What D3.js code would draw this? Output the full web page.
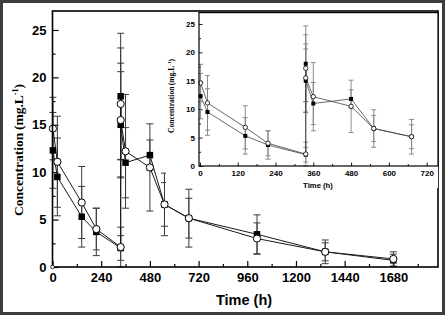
<!DOCTYPE html>
<html><head><meta charset="utf-8">
<script src="https://cdn.jsdelivr.net/npm/d3@7"></script>
<style>body{margin:0;background:#fff}svg{display:block}</style>
</head><body>
<script>
// ---- data ----
const timeH      = [2, 24, 144, 216, 336, 336, 336, 360, 480, 552, 672, 1008, 1344, 1680];
const squareMean = [12.3, 9.5, 5.3, 3.7, 2.0, 18.0, 15.0, 11.0, 11.8, 6.6, 5.15, 3.45, 1.6, 0.7];
const squareSD   = [4.0, 4.1, 3.2, 2.5, 1.3, 6.65, 5.6, 3.7, 1.6, 2.3, 2.1, 2.05, 0.95, 0.65];
const circleMean = [14.6, 11.1, 6.8, 4.0, 2.1, 17.2, 15.5, 12.2, 10.5, 6.6, 5.15, 3.0, 1.6, 0.85];
const circleSD   = [3.3, 4.8, 3.8, 2.2, 2.1, 5.9, 6.0, 6.0, 4.6, 3.3, 3.05, 1.65, 1.25, 0.75];
const originTime = [0];
const originValue = [0];
const mainXTicks = [0, 240, 480, 720, 960, 1200, 1440, 1680];
const mainXMinor = [120, 360, 600, 840, 1080, 1320, 1560, 1800];
const mainYTicks = [0, 5, 10, 15, 20, 25];
const mainYMinor = [2.5, 7.5, 12.5, 17.5, 22.5];
const insetXTicks = [0, 120, 240, 360, 480, 600, 720];
const insetXMinor = [60, 180, 300, 420, 540, 660];
const insetYTicks = [0, 5, 10, 15, 20, 25];
const insetYMinor = [2.5, 7.5, 12.5, 17.5, 22.5];
const yTitle = "Concentration";
const yUnit = "(mg.L";
const xTitle = "Time (h)";

const W = 445, H = 317;
const svg = d3.select("body").append("svg").attr("width", W).attr("height", H);
svg.append("rect").attr("width", W).attr("height", H).attr("fill", "#fff");

const sq = timeH.map((t, i) => ({t, v: squareMean[i], sd: squareSD[i]}));
const ci = timeH.map((t, i) => ({t, v: circleMean[i], sd: circleSD[i]}));

function panel(g, x, y, o) {
  const [x0, x1] = x.range(), [y0, y1] = y.range();
  const ax = (axis, tr) => {
    const a = g.append("g").attr("transform", tr).call(axis);
    a.select(".domain").remove();
    a.selectAll("line").attr("stroke", "#000").attr("stroke-width", o.tw);
    a.selectAll("text").attr("font-family", "Arial, 'Liberation Sans', sans-serif")
      .attr("font-weight", "bold").attr("font-size", o.fs).attr("fill", "#000");
    return a;
  };
  ax(d3.axisBottom(x).tickValues(o.xMinor).tickSize(-o.minor).tickFormat(""), `translate(0,${y0})`);
  ax(d3.axisBottom(x).tickValues(o.xTicks).tickSize(-o.major).tickPadding(o.xpad).tickFormat(d3.format("d")), `translate(0,${y0})`);
  ax(d3.axisLeft(y).tickValues(o.yMinor).tickSize(-o.minor).tickFormat(""), `translate(${x0},0)`);
  ax(d3.axisLeft(y).tickValues(o.yTicks).tickSize(-o.major).tickPadding(o.ypad).tickFormat(d3.format("d")), `translate(${x0},0)`);

  const inDom = d => d.t <= x.domain()[1];
  const drawErr = (data, col) => {
    const e = g.append("g").attr("stroke", col).attr("stroke-width", o.ew).attr("fill", "none");
    data.filter(inDom).forEach(d => {
      const cx = x(d.t), lo = y(Math.max(0, d.v - d.sd)), hi = y(d.v + d.sd);
      e.append("line").attr("x1", cx).attr("x2", cx).attr("y1", lo).attr("y2", hi);
      e.append("line").attr("x1", cx - o.cap).attr("x2", cx + o.cap).attr("y1", lo).attr("y2", lo);
      e.append("line").attr("x1", cx - o.cap).attr("x2", cx + o.cap).attr("y1", hi).attr("y2", hi);
    });
  };
  drawErr(ci, o.errCol);
  drawErr(sq, o.errCol);
  const line = d3.line().x(d => x(d.t)).y(d => y(d.v));
  [sq, ci].forEach(s => g.append("path").attr("d", line(s.filter(inDom)))
    .attr("fill", "none").attr("stroke", o.lineCol).attr("stroke-width", o.lw));
  g.append("g").selectAll("rect").data(sq.filter(inDom)).join("rect")
    .attr("x", d => x(d.t) - o.sq / 2).attr("y", d => y(d.v) - o.sq / 2)
    .attr("width", o.sq).attr("height", o.sq).attr("fill", "#000");
  g.append("g").selectAll("circle").data(ci.filter(inDom)).join("circle")
    .attr("cx", d => x(d.t)).attr("cy", d => y(d.v)).attr("r", o.r)
    .attr("fill", "#fff").attr("stroke", "#000").attr("stroke-width", o.lw);
  g.append("rect").attr("x", x0).attr("y", y1).attr("width", x1 - x0).attr("height", y0 - y1)
    .attr("fill", "none").attr("stroke", "#000").attr("stroke-width", o.fw);
}

// ---- main ----
const xMain = d3.scaleLinear().domain([0, 1900]).range([52.5, 438]);
const yMain = d3.scaleLinear().domain([0, 27]).range([267, 11]);
const gMain = svg.append("g");
panel(gMain, xMain, yMain, {
  xTicks: mainXTicks, xMinor: mainXMinor, yTicks: mainYTicks, yMinor: mainYMinor,
  major: 6, minor: 3, tw: 1.2, fs: 13, xpad: 6, ypad: 6,
  ew: 1, cap: 3.5, errCol: "#3a3a3a", lineCol: "#1a1a1a", lw: 1, sq: 6.5, r: 3.6, fw: 1.6
});
gMain.append("circle").attr("cx", xMain(originTime[0])).attr("cy", yMain(originValue[0]))
  .attr("r", 1.8).attr("fill", "#fff").attr("stroke", "#000").attr("stroke-width", 0.8);

const yl = svg.append("text").attr("transform", "translate(23,150) rotate(-90)")
  .attr("text-anchor", "middle").attr("font-family", "'Liberation Serif', 'Times New Roman', serif")
  .attr("font-weight", "bold").attr("font-size", 13.5).attr("fill", "#000");
yl.append("tspan").text(yTitle + "\u2009" + yUnit);
yl.append("tspan").attr("dy", -5).attr("font-size", 8).text("-1");
yl.append("tspan").attr("dy", 5).text(")");

svg.append("text").attr("x", 244).attr("y", 305).attr("text-anchor", "middle")
  .attr("font-family", "Arial, 'Liberation Sans', sans-serif").attr("font-weight", "bold")
  .attr("font-size", 14.5).text(xTitle);

// ---- inset ----
svg.append("rect").attr("x", 166).attr("y", 12).attr("width", 272).attr("height", 176).attr("fill", "#fff");
const xIn = d3.scaleLinear().domain([-3, 756]).range([199, 438]);
const yIn = d3.scaleLinear().domain([0, 27]).range([166, 12.6]);
const gIn = svg.append("g");
panel(gIn, xIn, yIn, {
  xTicks: insetXTicks, xMinor: insetXMinor, yTicks: insetYTicks, yMinor: insetYMinor,
  major: 3.5, minor: 2, tw: 0.9, fs: 8, xpad: 4, ypad: 4,
  ew: 0.9, cap: 2.5, errCol: "#808080", lineCol: "#444", lw: 0.8, sq: 4, r: 2.2, fw: 1.2
});
const yl2 = svg.append("text").attr("transform", "translate(174,96) rotate(-90)")
  .attr("text-anchor", "middle").attr("font-family", "'Liberation Serif', 'Times New Roman', serif")
  .attr("font-weight", "bold").attr("font-size", 7.5).attr("fill", "#000");
yl2.append("tspan").text(yTitle + "\u2009" + yUnit);
yl2.append("tspan").attr("dy", -3).attr("font-size", 5).text("-1");
yl2.append("tspan").attr("dy", 3).text(")");
svg.append("text").attr("x", 318).attr("y", 188).attr("text-anchor", "middle")
  .attr("font-family", "Arial, 'Liberation Sans', sans-serif").attr("font-weight", "bold")
  .attr("font-size", 7.7).text(xTitle);

// outer frame
svg.append("rect").attr("x", 1.5).attr("y", 1.5).attr("width", W - 3).attr("height", H - 5)
  .attr("fill", "none").attr("stroke", "#3c3c3c").attr("stroke-width", 3);
</script>
</body></html>
